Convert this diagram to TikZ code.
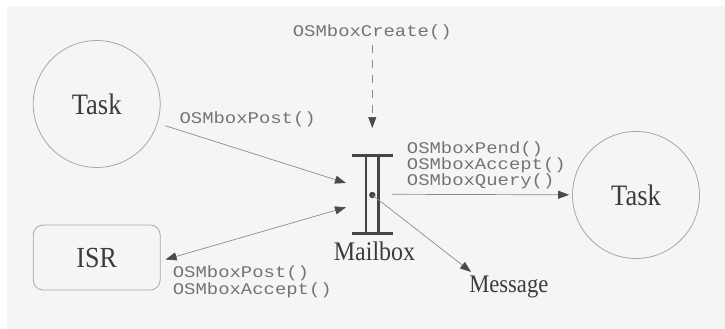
\documentclass[tikz,border=0pt]{standalone}
\usepackage{fontspec}
\setmainfont{Liberation Serif}
\setmonofont{Liberation Mono}
\usetikzlibrary{arrows.meta,calc}

\definecolor{paper}{HTML}{F5F5F5}
\definecolor{ink}{HTML}{3C3C3C}
\definecolor{callgray}{HTML}{747474}
\definecolor{circlegray}{HTML}{A8A8A8}
\definecolor{linegray}{HTML}{8C8C8C}
\definecolor{tipgray}{HTML}{4A4A4A}
\definecolor{bargray}{HTML}{444444}

% API call names in a wide typewriter face
\newcommand{\apicall}[1]{\scalebox{1.16}[1]{\fontsize{16.3}{16.7}\selectfont\ttfamily #1}}
% serif words, slightly tall
\newcommand{\bigword}[2]{\scalebox{1}[1.12]{\fontsize{#1}{#1}\selectfont #2}}

\tikzset{
  proc/.style={circle, draw=circlegray, line width=0.8pt, minimum size=127pt,
               inner sep=0pt, text=ink},
  isrbox/.style={draw=circlegray, line width=0.8pt, rounded corners=10pt,
                 minimum width=127pt, minimum height=65pt, inner sep=0pt, text=ink},
  word/.style={text=ink, inner sep=0pt, anchor=base},
  call/.style={text=callgray, inner sep=0pt, anchor=base west},
  flow/.style={draw=linegray, line width=0.7pt,
               -{Triangle[length=11pt,width=8pt,color=tipgray]}},
  bothflow/.style={draw=linegray, line width=0.7pt,
               {Triangle[length=11pt,width=8pt,color=tipgray]}-{Triangle[length=11pt,width=8pt,color=tipgray]}},
  bar/.style={draw=bargray, line width=2.6pt},
  post/.style={draw=bargray, line width=2.2pt}
}

\begin{document}
\begin{tikzpicture}[x=1pt,y=-1pt]
  \useasboundingbox (0,0) rectangle (725,329);
  \fill[white] (0,0) rectangle (725,329);
  \fill[paper] (7,6) rectangle (725,329);

  % tasks and ISR
  \node[proc] (task1) at (96.7,104) {\bigword{26.5}{Task}};
  \node[proc] (task2) at (636,195) {\bigword{26.5}{Task}};
  \node[isrbox] (isr) at (96.7,257.5) {\bigword{26}{ISR}};

  % mailbox symbol
  \draw[bar] (352,155.7) -- (393,155.7);
  \draw[bar] (352,233.3) -- (393,233.3);
  \draw[post] (365.7,155.7) -- (365.7,233.3);
  \draw[post] (378.5,155.7) -- (378.5,233.3);
  \coordinate (mbdot) at (372.3,195);
  \fill[bargray] (mbdot) circle (3.2pt);
  \coordinate (mbtop) at (372.3,128);
  \coordinate (mbin1) at (346,183);
  \coordinate (mbin2) at (346,207.3);
  \coordinate (mbout) at (391.7,194.3);
  \node[word] (mblabel) at (374.5,260) {\bigword{24}{Mailbox}};
  \node[word] (msg) at (508.8,292.7) {\bigword{22.6}{Message}};

  % API labels
  \node[call, anchor=base] (create) at (372.3,36.5) {\apicall{OSMboxCreate()}};
  \node[call] (post1) at (179.4,123) {\apicall{OSMboxPost()}};
  \node[call] (pend) at (406.7,153.3) {\apicall{OSMboxPend()}};
  \node[call] (accept1) at (406.7,169.5) {\apicall{OSMboxAccept()}};
  \node[call] (query) at (406.7,185.7) {\apicall{OSMboxQuery()}};
  \node[call] (post2) at (172.7,277.3) {\apicall{OSMboxPost()}};
  \node[call] (accept2) at (172.7,294) {\apicall{OSMboxAccept()}};

  % connectors
  \draw[flow, dash pattern=on 8pt off 7pt] ($(create.south)+(0,5)$) -- (mbtop);
  \draw[flow, shorten <=8pt] (task1) -- (mbin1);
  \draw[bothflow] (mbin2) -- ($(isr.east)+(5,2)$);
  \draw[flow, shorten >=3pt] (mbout) -- (task2);
  \draw[flow] (mbdot) -- ($(msg.north west)+(2,-4)$);
\end{tikzpicture}
\end{document}
